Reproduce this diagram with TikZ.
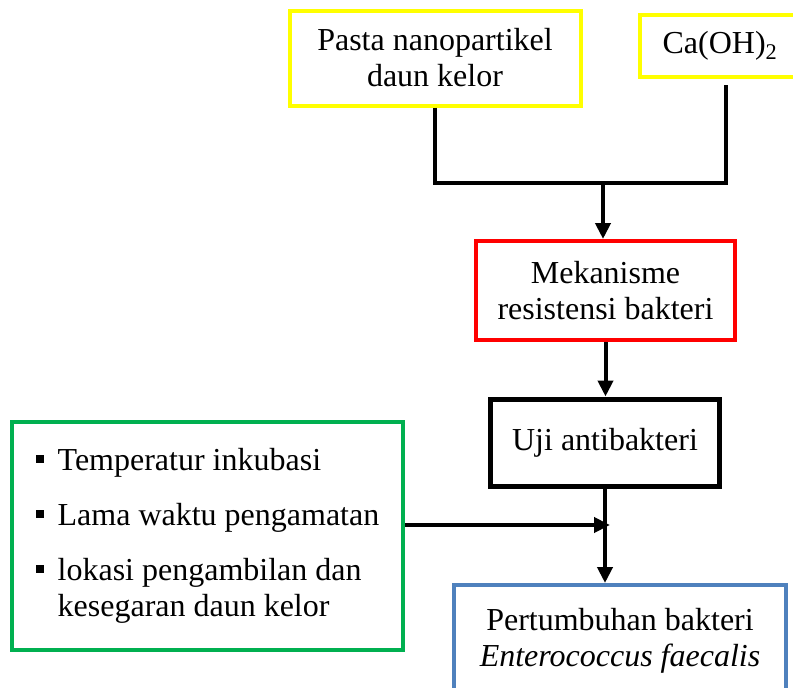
\documentclass[tikz,border=0pt]{standalone}
\usepackage{fontspec}
\setmainfont{Liberation Serif}
\usetikzlibrary{arrows.meta}

\definecolor{kuning}{RGB}{255,255,0}
\definecolor{merah}{RGB}{255,0,0}
\definecolor{hijau}{RGB}{0,176,80}
\definecolor{biru}{RGB}{79,129,189}
\newcommand{\butir}{\makebox[22pt][l]{\rule[7.5pt]{8pt}{8pt}}}

\begin{document}
\begin{tikzpicture}[x=1pt,y=-1pt,
    every node/.style={font=\fontsize{32}{36}\selectfont,align=center,inner sep=0pt},
    kotak/.style={draw=#1,line width=4pt},
    garis/.style={line width=4pt},
    panah/.style={garis,-{Triangle[length=16pt,width=15pt]}}]
  \useasboundingbox (0,0) rectangle (793,688);

  % kotak
  \node[kotak=kuning,minimum width=291pt,minimum height=95pt] (pasta) at (435,58) {Pasta nanopartikel\\daun kelor};
  \node[kotak=kuning,minimum width=172pt,minimum height=62pt] (ca) at (726,46) {Ca(OH)\textsubscript{2}\hspace*{12pt}};
  \node[kotak=merah,minimum width=259pt,minimum height=99pt] (mekanisme) at (605.5,290.5) {Mekanisme\\resistensi bakteri};
  \node[kotak=black,line width=5pt,minimum width=229pt,minimum height=87pt] (uji) at (605,442.5) {Uji antibakteri};
  \node[kotak=hijau,minimum width=391pt,minimum height=228pt,align=left] (faktor) at (207.5,536)
    {\butir Temperatur inkubasi\\[19pt]\butir Lama waktu pengamatan\\[19pt]\butir lokasi pengambilan dan\\\hspace*{22pt}kesegaran daun kelor};
  \node[kotak=biru,minimum width=332pt,minimum height=112pt] (hasil) at (620,641) {Pertumbuhan bakteri\\\textit{Enterococcus faecalis}};

  % garis penghubung
  \coordinate (gabung) at (603,183);
  \coordinate (temu) at (610,525);
  \draw[garis] (pasta.south) |- (gabung) -| ([yshift=-6pt]ca.south);
  \draw[panah] (gabung) -- (gabung |- mekanisme.north);
  \draw[panah] (mekanisme.south) -- (mekanisme.south |- uji.north);
  \draw[panah] (uji.south) -- (uji.south |- hasil.north);
  \draw[panah] (faktor.east |- temu) -- (temu);
\end{tikzpicture}
\end{document}
